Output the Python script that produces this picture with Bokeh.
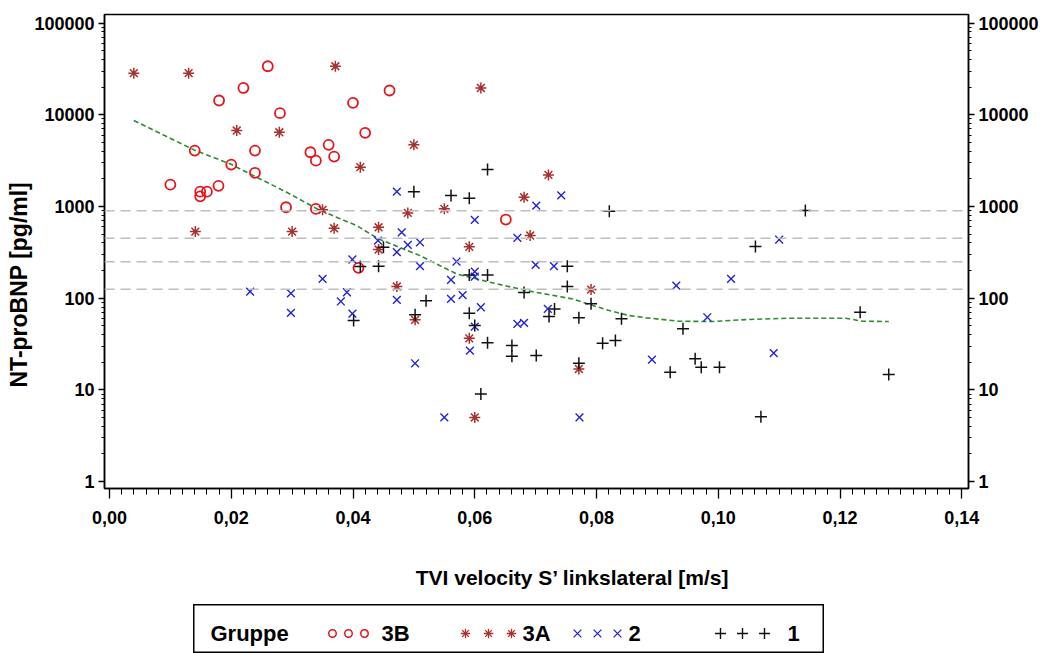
import numpy as np
from bokeh.plotting import figure
from bokeh.models import (Range1d, LogAxis, FixedTicker, PrintfTickFormatter,
                          CustomJSTickFormatter, Span, Spacer, Title)
from bokeh.layouts import column, row
from bokeh.core.properties import value
from bokeh.embed import file_html
from bokeh.resources import INLINE

# ---------------- data ----------------
g3b_x = [0.0100, 0.0140, 0.0149, 0.0160, 0.0149, 0.0179, 0.0180, 0.0200, 0.0220, 0.0239,
         0.0239, 0.0260, 0.0280, 0.0290, 0.0330, 0.0339, 0.0339, 0.0360, 0.0369, 0.0400,
         0.0409, 0.0420, 0.0460, 0.0651]
g3b_y = [1730, 4070, 1450, 1450, 1290, 1680, 14300, 2860, 19600, 4070,
         2330, 33800, 10400, 980, 3900, 3160, 940, 4700, 3500, 13500,
         214, 6350, 18400, 720]

g3a_x = [0.0040, 0.0130, 0.0141, 0.0209, 0.0279, 0.0300, 0.0350, 0.0369, 0.0371, 0.0412,
         0.0442, 0.0442, 0.0472, 0.0490, 0.0500, 0.0502, 0.0550, 0.0591, 0.0591, 0.0600,
         0.0610, 0.0681, 0.0691, 0.0721, 0.0771, 0.0791]
g3a_y = [28400, 28400, 532, 6730, 6440, 532, 918, 578, 33800, 2680,
         593, 339, 134, 851, 4700, 58, 942, 363, 36.5, 5.0,
         19600, 1260, 482, 2210, 16.9, 124]

g2_x = [0.0231, 0.0298, 0.0298, 0.0350, 0.0380, 0.0390, 0.0399, 0.0399, 0.0441, 0.0472,
        0.0472, 0.0472, 0.0480, 0.0490, 0.0510, 0.0510, 0.0502, 0.0550, 0.0561, 0.0561,
        0.0570, 0.0580, 0.0592, 0.0600, 0.0600, 0.0600, 0.0600, 0.0610, 0.0670, 0.0670,
        0.0681, 0.0700, 0.0701, 0.0720, 0.0730, 0.0742, 0.0772, 0.0891, 0.0931, 0.0982,
        0.1021, 0.1091, 0.1100]
g2_y = [118, 113, 69, 162, 92, 116, 264, 68, 425, 1450,
        317, 96, 523, 381, 407, 223, 19.5, 5.0, 158, 98,
        251, 108, 26.8, 714, 195, 172, 49, 79.6, 455, 52.5,
        53.8, 231, 1020, 76.4, 223, 1320, 5.0, 21.4, 137, 61.9,
        162, 25.1, 435]

g1_x = [0.0401, 0.0412, 0.0442, 0.0450, 0.0500, 0.0502, 0.0520, 0.0561, 0.0591, 0.0591,
        0.0591, 0.0600, 0.0610, 0.0621, 0.0621, 0.0621, 0.0661, 0.0661, 0.0681, 0.0701,
        0.0722, 0.0731, 0.0752, 0.0752, 0.0771, 0.0771, 0.0791, 0.0810, 0.0821, 0.0831,
        0.0841, 0.0921, 0.0942, 0.0962, 0.0972, 0.1002, 0.1061, 0.1070, 0.1143, 0.1233,
        0.1280]
g1_y = [57, 221, 223, 359, 1450, 65.8, 93.5, 1320, 1230, 179,
        68.4, 50.3, 9.0, 2530, 179, 32.6, 30.4, 23.2, 115, 23.7,
        63, 76.4, 223, 134, 61, 19.5, 86.7, 32.2, 887, 34.5,
        59.5, 15.6, 46.3, 21.8, 17.6, 17.6, 365, 5.1, 902, 70.2,
        14.7]

loess_x = [0.0040, 0.0141, 0.0198, 0.0242, 0.0291, 0.0341, 0.0379, 0.0406, 0.0442, 0.0510,
           0.0570, 0.0625, 0.0685, 0.0761, 0.0794, 0.0821, 0.0854, 0.0882, 0.0936, 0.0991,
           0.1045, 0.1116, 0.1209, 0.1237, 0.1280]
loess_y = [8650, 4070, 2920, 2080, 1430, 942, 733, 619, 443, 291,
           184, 149, 121, 98, 83, 73.3, 64.6, 61, 56, 55.6,
           58.4, 60.4, 60.4, 56, 55.6]

ref_levels = [125, 250, 450, 900]

x_ticks = [0.00, 0.02, 0.04, 0.06, 0.08, 0.10, 0.12, 0.14]
y_ticks = [1, 10, 100, 1000, 10000, 100000]

x_title = "TVI velocity S\u2019 linkslateral [m/s]"
y_title = "NT-proBNP [pg/ml]"
legend_title = "Gruppe"
legend_labels = ["3B", "3A", "2", "1"]

# ---------------- styles ----------------
FONT = "Liberation Sans"
C3B = "#E8141B"
C3A = "#A8302E"
C2 = "#2323D8"
C1 = "#111111"
CLOESS = "#2E8B2E"

p = figure(width=1041, height=553,
           x_range=Range1d(-0.00082, 0.1411), y_range=Range1d(0.84, 124000),
           y_axis_type="log", output_backend="svg", toolbar_location=None,
           min_border_left=104, min_border_right=71, min_border_top=14,
           min_border_bottom=65)
p.background_fill_color = "white"
p.border_fill_color = "white"
p.outline_line_color = "black"
p.outline_line_width = 1.5
p.xgrid.visible = False
p.ygrid.visible = False

for lvl in ref_levels:
    p.add_layout(Span(location=lvl, dimension="width", line_color="#BDBDBD",
                      line_width=1.5, line_dash="10 6"))

p.line(loess_x, loess_y, line_color=CLOESS, line_width=1.6, line_dash="5 3")

p.scatter(g3b_x, g3b_y, marker="circle", size=10, fill_color=None,
          line_color=C3B, line_width=1.8)
p.scatter(g3a_x, g3a_y, marker="asterisk", size=11, line_color=C3A, line_width=1.5)
p.scatter(g2_x, g2_y, marker="x", size=11, line_color=C2, line_width=1.4)
p.scatter(g1_x, g1_y, marker="cross", size=12, line_color=C1, line_width=1.5)

minor_x = [i * 0.002 for i in range(0, 71)]
minor_y = [m * 10 ** e for e in range(0, 5) for m in range(2, 10)] + [2e5]

xa = p.xaxis[0]
xa.ticker = FixedTicker(ticks=x_ticks, minor_ticks=minor_x)
xa.formatter = CustomJSTickFormatter(code="return tick.toFixed(2).replace('.', ',');")
xa.major_tick_out = 10
xa.major_tick_in = 0
xa.minor_tick_out = 6
xa.minor_tick_in = 0
xa.major_label_standoff = 12

ya = p.yaxis[0]
ra = LogAxis()
p.add_layout(ra, "right")

for ax in (ya, ra):
    ax.ticker = FixedTicker(ticks=y_ticks, minor_ticks=minor_y)
    ax.formatter = PrintfTickFormatter(format="%d")
    ax.major_tick_out = 6
    ax.major_tick_in = 0
    ax.minor_tick_out = 3
    ax.minor_tick_in = 0
    ax.major_label_standoff = 4

for ax in (xa, ya, ra):
    ax.axis_line_color = "black"
    ax.axis_line_width = 1.5
    ax.major_tick_line_color = "black"
    ax.major_tick_line_width = 1.3
    ax.minor_tick_line_color = "black"
    ax.minor_tick_line_width = 1
    ax.major_label_text_font = FONT
    ax.major_label_text_font_style = "bold"
    ax.major_label_text_font_size = "18px"
    ax.major_label_text_color = "black"

# y axis title as a side-panel title (shifted like the reference)
p.add_layout(Title(text=y_title, align="left", offset=101, standoff=0,
                   text_font=FONT, text_font_style="bold", text_font_size="23px",
                   text_color="black"), "left")

# ---------------- x axis title strip ----------------
sw, sh = 1041, 51
ts = figure(width=sw, height=sh, x_range=Range1d(0, sw), y_range=Range1d(0, sh),
            output_backend="svg", toolbar_location=None, min_border=0)
ts.axis.visible = False
ts.xgrid.visible = False
ts.ygrid.visible = False
ts.outline_line_color = None
ts.background_fill_color = "white"
ts.border_fill_color = "white"
ts.text(x=[375], y=[27], text=[x_title], text_font=value(FONT), text_font_style="bold",
        text_font_size="21px", text_baseline="middle", text_align="left",
        text_color="black")

# ---------------- legend box ----------------
lw, lh = 631, 49
lf = figure(width=lw, height=lh, x_range=Range1d(0, lw), y_range=Range1d(0, lh),
            output_backend="svg", toolbar_location=None, min_border=0)
lf.axis.visible = False
lf.xgrid.visible = False
lf.ygrid.visible = False
lf.outline_line_color = "black"
lf.outline_line_width = 2
lf.background_fill_color = "white"
lf.border_fill_color = "white"

cy = 20
lf.text(x=[17], y=[cy], text=[legend_title], text_font=value(FONT),
        text_font_style="bold", text_font_size="22px", text_baseline="middle",
        text_align="left", text_color="black")

marker_specs = [("circle", C3B, 7.5, 1.5, None), ("asterisk", C3A, 9.5, 1.3, None),
                ("x", C2, 11, 1.3, None), ("cross", C1, 11, 1.4, None)]
trio_start = [139, 272, 384, 527]
trio_step = [16, 23, 20, 22]
label_x = [188, 329, 435, 594]
for (mk, col, sz, lwd, fc), x0, dx, lx, lab in zip(marker_specs, trio_start, trio_step,
                                                   label_x, legend_labels):
    xs = [x0 + k * dx for k in range(3)]
    lf.scatter(xs, [cy] * 3, marker=mk, size=sz, line_color=col, line_width=lwd,
               fill_color=fc)
    lf.text(x=[lx], y=[cy], text=[lab], text_font=value(FONT), text_font_style="bold",
            text_font_size="22px", text_baseline="middle", text_align="left",
            text_color="black")

layout = column(p, ts, row(Spacer(width=193, height=lh), lf))

open("out.html", "w").write(file_html(layout, INLINE))
